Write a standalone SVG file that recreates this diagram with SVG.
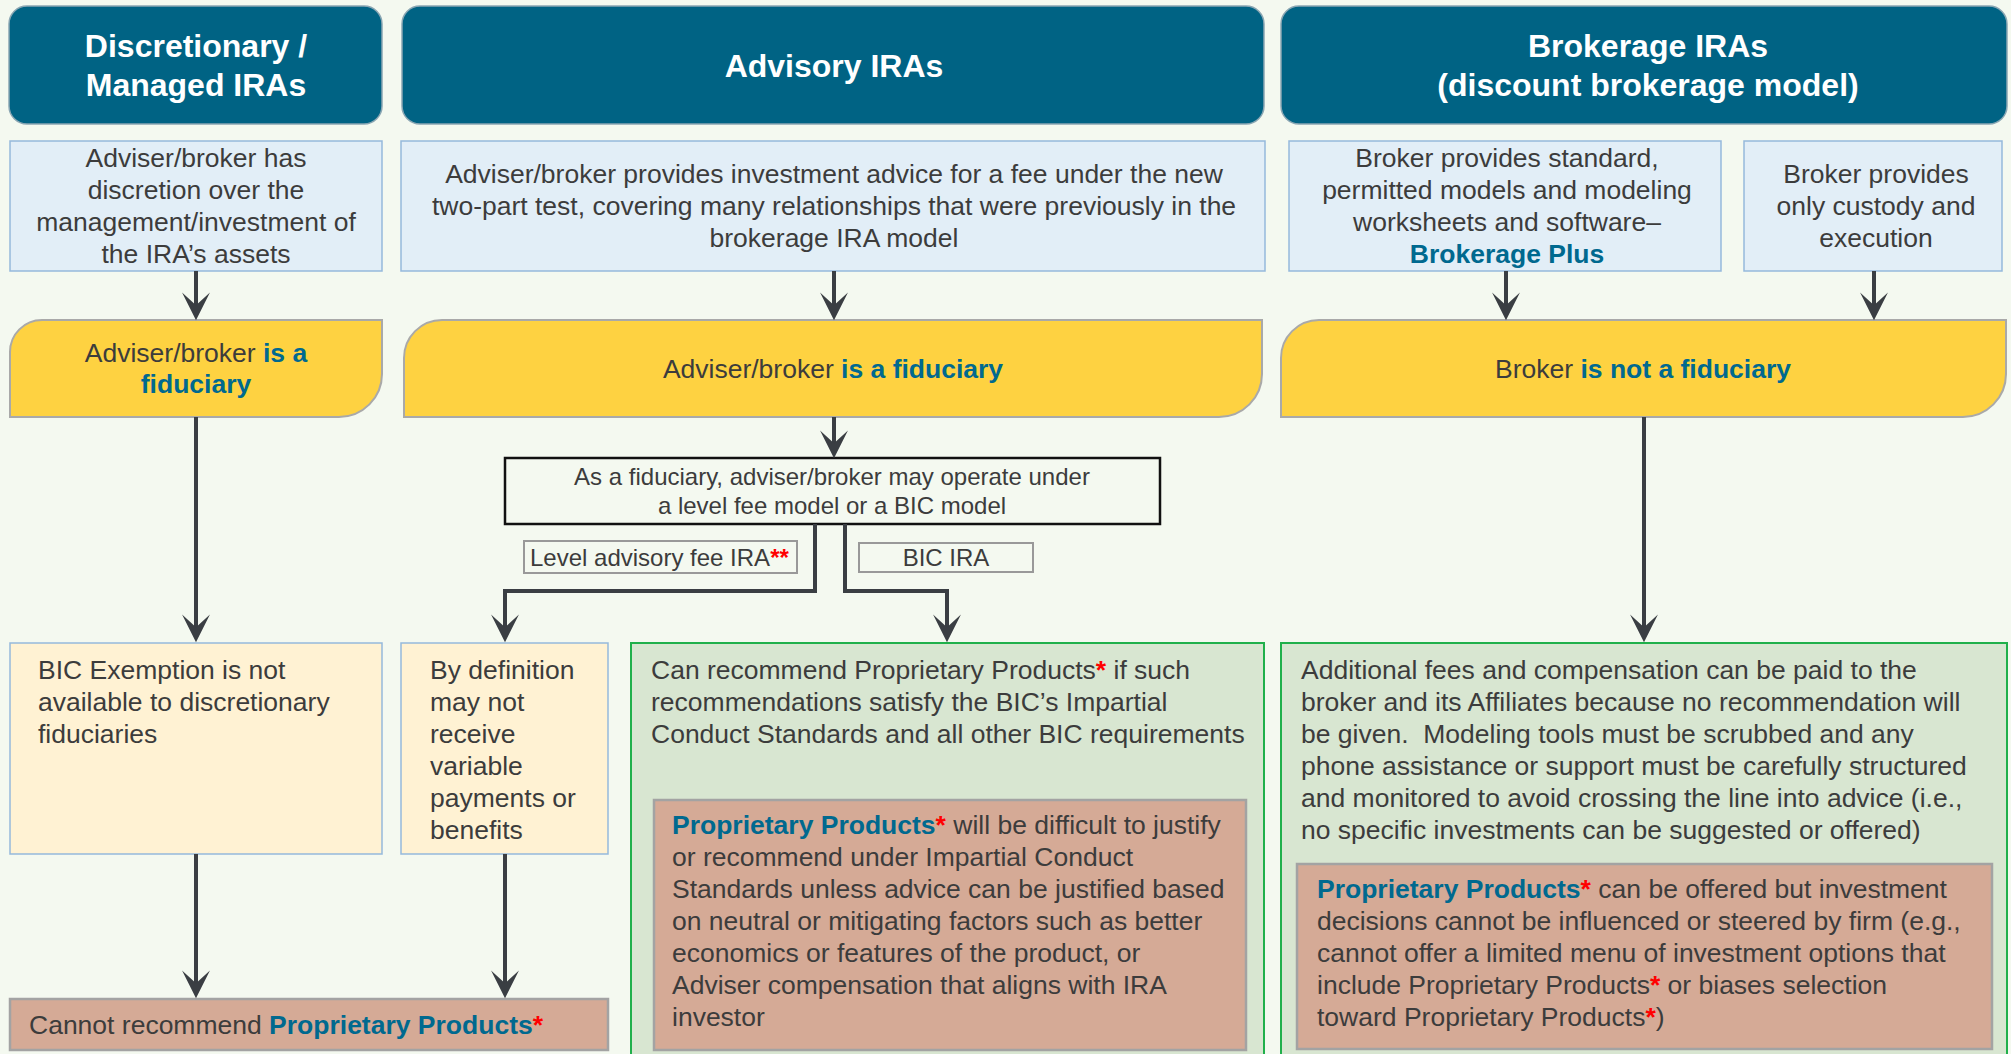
<svg xmlns="http://www.w3.org/2000/svg" width="2011" height="1054" viewBox="0 0 2011 1054">
<defs>
<marker id="arr" markerUnits="userSpaceOnUse" markerWidth="30" markerHeight="30" viewBox="0 -14 28 28" refX="22" refY="0" orient="auto">
<path d="M0,-13 L26,0 L0,13 L12,0 Z" fill="#3a3e43"/>
</marker>
<style>
.hdr{fill:#006384;stroke:#8aa6b3;stroke-width:1.5}
.ht{font-family:"Liberation Sans",Arial,sans-serif;font-weight:bold;font-size:32px;fill:#ffffff;text-anchor:middle}
.blue{fill:#e2eef7;stroke:#95b9db;stroke-width:1.5}
.yel{fill:#fed241;stroke:#a9a9a9;stroke-width:2}
.cream{fill:#fff2d3;stroke:#95b9db;stroke-width:1.5}
.sal{fill:#d5aa96;stroke:#a3a3a3;stroke-width:2.5}
.grn{fill:#d8e6d1;stroke:#20b04b;stroke-width:2}
.t{font-family:"Liberation Sans",Arial,sans-serif;font-size:26.5px;fill:#3c3c3c}
.c{text-anchor:middle}
.s{font-family:"Liberation Sans",Arial,sans-serif;font-size:24px;fill:#3c3c3c}
.b{font-weight:bold;fill:#00698f}
.r{font-weight:bold;fill:#ff0000}
.ln{fill:none;stroke:#3a3e43;stroke-width:4}
</style>
</defs>
<rect width="2011" height="1054" fill="#f4f9f0"/>

<g id="hdr-discretionary">
<rect class="hdr" x="9" y="6" width="373" height="118" rx="18"/>
<text class="ht" x="196" y="57">Discretionary /</text>
<text class="ht" x="196" y="96">Managed IRAs</text>
</g>
<g id="hdr-advisory">
<rect class="hdr" x="402" y="6" width="862" height="118" rx="18"/>
<text class="ht" x="834" y="77">Advisory IRAs</text>
</g>
<g id="hdr-brokerage">
<rect class="hdr" x="1281" y="6" width="726" height="118" rx="18"/>
<text class="ht" x="1648" y="57">Brokerage IRAs</text>
<text class="ht" x="1648" y="96">(discount brokerage model)</text>
</g>

<g id="desc-discretionary">
<rect class="blue" x="10" y="141" width="372" height="130"/>
<text class="t c" x="196" y="167">Adviser/broker has</text>
<text class="t c" x="196" y="199">discretion over the</text>
<text class="t c" x="196" y="231">management/investment of</text>
<text class="t c" x="196" y="263">the IRA’s assets</text>
</g>
<g id="desc-advisory">
<rect class="blue" x="401" y="141" width="864" height="130"/>
<text class="t c" x="834" y="183">Adviser/broker provides investment advice for a fee under the new</text>
<text class="t c" x="834" y="215">two-part test, covering many relationships that were previously in the</text>
<text class="t c" x="834" y="247">brokerage IRA model</text>
</g>
<g id="desc-brokerage-plus">
<rect class="blue" x="1289" y="141" width="432" height="130"/>
<text class="t c" x="1507" y="167">Broker provides standard,</text>
<text class="t c" x="1507" y="199">permitted models and modeling</text>
<text class="t c" x="1507" y="231">worksheets and software–</text>
<text class="t c b" x="1507" y="263">Brokerage Plus</text>
</g>
<g id="desc-custody">
<rect class="blue" x="1744" y="141" width="258" height="130"/>
<text class="t c" x="1876" y="183">Broker provides</text>
<text class="t c" x="1876" y="215">only custody and</text>
<text class="t c" x="1876" y="247">execution</text>
</g>

<g id="fid-discretionary">
<path class="yel" d="M10,417 L10,352 A32,32 0 0 1 42,320 L382,320 L382,374 A43,43 0 0 1 339,417 Z"/>
<text class="t c" x="196" y="362">Adviser/broker <tspan class="b">is a</tspan></text>
<text class="t c b" x="196" y="393">fiduciary</text>
</g>
<g id="fid-advisory">
<path class="yel" d="M404,417 L404,358 A38,38 0 0 1 442,320 L1262,320 L1262,374 A43,43 0 0 1 1219,417 Z"/>
<text class="t c" x="833" y="378">Adviser/broker <tspan class="b">is a fiduciary</tspan></text>
</g>
<g id="fid-brokerage">
<path class="yel" d="M1281,417 L1281,358 A38,38 0 0 1 1319,320 L2006,320 L2006,374 A43,43 0 0 1 1963,417 Z"/>
<text class="t c" x="1643" y="378">Broker <tspan class="b">is not a fiduciary</tspan></text>
</g>

<g id="fid-models">
<rect x="505" y="458" width="655" height="66" fill="none" stroke="#111111" stroke-width="2.5"/>
<text class="s c" x="832" y="485">As a fiduciary, adviser/broker may operate under</text>
<text class="s c" x="832" y="514">a level fee model or a BIC model</text>
</g>

<g id="bic-unavailable">
<rect class="cream" x="10" y="643" width="372" height="211"/>
<text class="t" x="38" y="679">BIC Exemption is not</text>
<text class="t" x="38" y="711">available to discretionary</text>
<text class="t" x="38" y="743">fiduciaries</text>
</g>
<g id="no-variable">
<rect class="cream" x="401" y="643" width="207" height="211"/>
<text class="t" x="430" y="679">By definition</text>
<text class="t" x="430" y="711">may not</text>
<text class="t" x="430" y="743">receive</text>
<text class="t" x="430" y="775">variable</text>
<text class="t" x="430" y="807">payments or</text>
<text class="t" x="430" y="839">benefits</text>
</g>
<g id="cannot-recommend">
<rect class="sal" x="10" y="999" width="598" height="51"/>
<text class="t" x="29" y="1034">Cannot recommend <tspan class="b">Proprietary Products</tspan><tspan class="r">*</tspan></text>
</g>

<g id="bic-can-recommend">
<rect class="grn" x="631" y="643" width="633" height="420"/>
<text class="t" x="651" y="679">Can recommend Proprietary Products<tspan class="r">*</tspan> if such</text>
<text class="t" x="651" y="711">recommendations satisfy the BIC’s Impartial</text>
<text class="t" x="651" y="743">Conduct Standards and all other BIC requirements</text>
</g>
<g id="bic-difficult">
<rect class="sal" x="654" y="800" width="592" height="250"/>
<text class="t" x="672" y="834"><tspan class="b">Proprietary Products</tspan><tspan class="r">*</tspan> will be difficult to justify</text>
<text class="t" x="672" y="866">or recommend under Impartial Conduct</text>
<text class="t" x="672" y="898">Standards unless advice can be justified based</text>
<text class="t" x="672" y="930">on neutral or mitigating factors such as better</text>
<text class="t" x="672" y="962">economics or features of the product, or</text>
<text class="t" x="672" y="994">Adviser compensation that aligns with IRA</text>
<text class="t" x="672" y="1026">investor</text>
</g>

<g id="broker-fees">
<rect class="grn" x="1281" y="643" width="726" height="420"/>
<text class="t" x="1301" y="679">Additional fees and compensation can be paid to the</text>
<text class="t" x="1301" y="711">broker and its Affiliates because no recommendation will</text>
<text class="t" x="1301" y="743" xml:space="preserve">be given.  Modeling tools must be scrubbed and any</text>
<text class="t" x="1301" y="775">phone assistance or support must be carefully structured</text>
<text class="t" x="1301" y="807">and monitored to avoid crossing the line into advice (i.e.,</text>
<text class="t" x="1301" y="839">no specific investments can be suggested or offered)</text>
</g>
<g id="broker-proprietary">
<rect class="sal" x="1297" y="864" width="695" height="185"/>
<text class="t" x="1317" y="898"><tspan class="b">Proprietary Products</tspan><tspan class="r">*</tspan> can be offered but investment</text>
<text class="t" x="1317" y="930">decisions cannot be influenced or steered by firm (e.g.,</text>
<text class="t" x="1317" y="962">cannot offer a limited menu of investment options that</text>
<text class="t" x="1317" y="994">include Proprietary Products<tspan class="r">*</tspan> or biases selection</text>
<text class="t" x="1317" y="1026">toward Proprietary Products<tspan class="r">*</tspan>)</text>
</g>

<g id="connectors">
<path class="ln" marker-end="url(#arr)" d="M196,271 L196,316"/>
<path class="ln" marker-end="url(#arr)" d="M834,271 L834,316"/>
<path class="ln" marker-end="url(#arr)" d="M1506,271 L1506,316"/>
<path class="ln" marker-end="url(#arr)" d="M1874,271 L1874,316"/>
<path class="ln" marker-end="url(#arr)" d="M196,417 L196,638"/>
<path class="ln" marker-end="url(#arr)" d="M834,417 L834,454"/>
<path class="ln" marker-end="url(#arr)" d="M815,524 L815,591 L505,591 L505,638"/>
<path class="ln" marker-end="url(#arr)" d="M845,524 L845,591 L947,591 L947,638"/>
<path class="ln" marker-end="url(#arr)" d="M1644,417 L1644,638"/>
<path class="ln" marker-end="url(#arr)" d="M196,854 L196,994"/>
<path class="ln" marker-end="url(#arr)" d="M505,854 L505,994"/>
</g>

<g id="label-level-fee">
<rect x="524" y="541" width="273" height="32" fill="#f4f9f0" stroke="#999999" stroke-width="2"/>
<text class="s" x="530" y="566">Level advisory fee IRA<tspan class="r">**</tspan></text>
</g>
<g id="label-bic">
<rect x="859" y="543" width="174" height="29" fill="#f4f9f0" stroke="#999999" stroke-width="2"/>
<text class="s c" x="946" y="566">BIC IRA</text>
</g>
</svg>
